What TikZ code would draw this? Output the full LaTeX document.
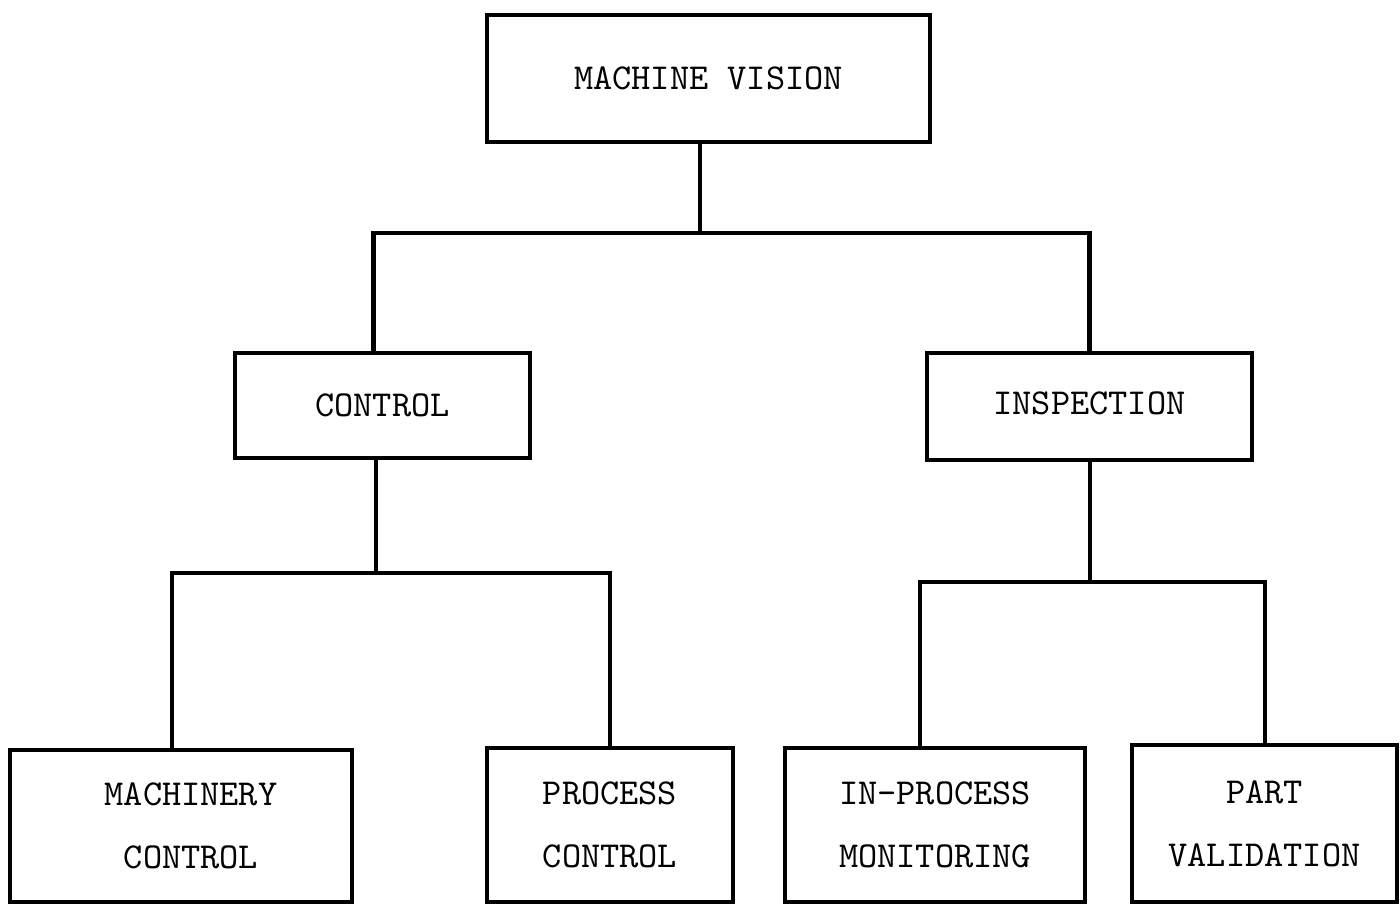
\documentclass[tikz,border=0pt]{standalone}
\usepackage{tikz}

\begin{document}
\begin{tikzpicture}[box/.style={draw, rectangle, line width=1.4pt, align=center, font=\ttfamily\fontsize{10.4}{18}\selectfont}, wire/.style={line width=1.4pt}]
  \useasboundingbox (0,0) rectangle (14,9.04);

  % Top level
  \node[box, minimum width=4.43cm, minimum height=1.27cm] (mv) at (7.085,8.255) {MACHINE VISION};

  % Second level
  \node[box, minimum width=2.95cm, minimum height=1.05cm] (ctrl) at (3.825,4.985) {CONTROL};
  \node[box, minimum width=3.25cm, minimum height=1.07cm] (insp) at (10.895,4.975) {\raisebox{0.07cm}{INSPECTION}};

  % Third level
  \node[box, minimum width=3.42cm, minimum height=1.52cm] (mach) at (1.81,0.78) {\hspace*{0.2cm}MACHINERY\\\hspace*{0.2cm}CONTROL};
  \node[box, minimum width=2.46cm, minimum height=1.54cm] (proc) at (6.10,0.79) {PROCESS\\CONTROL};
  \node[box, minimum width=3.00cm, minimum height=1.54cm] (inpr) at (9.35,0.79) {IN-PROCESS\\MONITORING};
  \node[box, minimum width=2.65cm, minimum height=1.57cm] (part) at (12.645,0.805) {PART\\VALIDATION};

  % Junctions
  \coordinate (jtop) at (7.00,6.71);
  \coordinate (jctrl) at (3.76,3.31);
  \coordinate (jinsp) at (10.90,3.22);

  % Connecting lines
  \draw[wire] (mv.south -| jtop) -- (jtop);
  \draw[wire] ([xshift=-0.09cm]ctrl.north) |- (jtop) -| (insp.north);
  \draw[wire] (ctrl.south -| jctrl) -- (jctrl);
  \draw[wire] ([xshift=-0.09cm]mach.north) |- (jctrl) -| (proc.north);
  \draw[wire] (insp.south -| jinsp) -- (jinsp);
  \draw[wire] ([xshift=-0.15cm]inpr.north) |- (jinsp) -| ([xshift=0.005cm]part.north);
\end{tikzpicture}
\end{document}
